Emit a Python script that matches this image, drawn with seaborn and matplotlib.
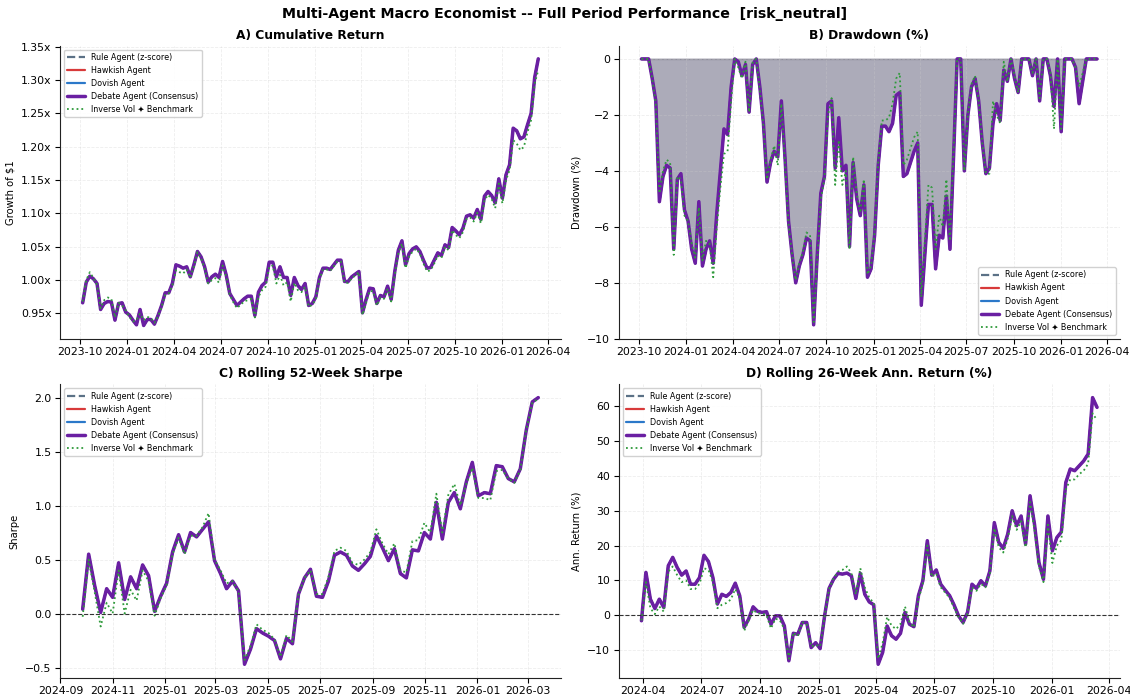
import matplotlib

matplotlib.use("Agg")

import matplotlib.dates as mdates
import matplotlib.pyplot as plt
import pandas as pd
import seaborn as sns
from matplotlib.ticker import FuncFormatter

START_FULL = "2023-10-06"
START_SHARPE = "2024-09-27"
START_RET26 = "2024-03-29"

AGENTS = [
    "Rule Agent (z-score)",
    "Hawkish Agent",
    "Dovish Agent",
    "Debate Agent (Consensus)",
    "Inverse Vol ✦ Benchmark",
]

# A) growth of $1 (agents overlap the debate line almost everywhere)
CUM_DEBATE = [
    0.966, 0.997, 1.006, 1.002, 0.995, 0.956, 0.965, 0.968, 0.967, 0.940,
    0.965, 0.966, 0.952, 0.948, 0.940, 0.933, 0.956, 0.932, 0.941, 0.941,
    0.934, 0.947, 0.962, 0.981, 0.981, 0.995, 1.023, 1.021, 1.018, 1.020,
    1.005, 1.023, 1.043, 1.035, 1.020, 0.997, 1.005, 1.009, 1.004, 1.028,
    1.008, 0.980, 0.971, 0.962, 0.967, 0.972, 0.976, 0.976, 0.947, 0.982,
    0.992, 0.997, 1.027, 1.027, 1.005, 1.020, 1.004, 1.004, 0.977, 1.004,
    0.992, 0.986, 0.995, 0.962, 0.965, 0.975, 1.004, 1.018, 1.018, 1.016,
    1.023, 1.030, 1.030, 0.998, 0.998, 1.005, 1.009, 1.013, 0.951, 0.971,
    0.988, 0.987, 0.965, 0.977, 0.975, 0.991, 0.971, 1.013, 1.045, 1.059,
    1.023, 1.040, 1.047, 1.050, 1.043, 1.030, 1.018, 1.019, 1.030, 1.041,
    1.037, 1.053, 1.049, 1.079, 1.074, 1.068, 1.078, 1.096, 1.098, 1.093,
    1.106, 1.091, 1.126, 1.133, 1.127, 1.116, 1.152, 1.123, 1.158, 1.173,
    1.228, 1.224, 1.212, 1.215, 1.233, 1.250, 1.304, 1.332,
]
CUM_BENCH = [
    0.968, 1.000, 1.012, 1.003, 0.993, 0.958, 0.970, 0.974, 0.972, 0.944,
    0.966, 0.962, 0.955, 0.945, 0.938, 0.940, 0.950, 0.940, 0.945, 0.943,
    0.936, 0.945, 0.960, 0.978, 0.980, 0.992, 1.015, 1.012, 1.010, 1.016,
    1.004, 1.020, 1.042, 1.033, 1.017, 0.995, 1.000, 1.003, 0.996, 1.022,
    1.006, 0.978, 0.967, 0.958, 0.963, 0.968, 0.970, 0.972, 0.944, 0.975,
    0.985, 0.990, 1.020, 1.022, 0.995, 1.008, 0.992, 0.997, 0.968, 0.996,
    0.985, 0.982, 0.990, 0.960, 0.963, 0.972, 1.001, 1.016, 1.016, 1.014,
    1.021, 1.028, 1.028, 0.996, 0.996, 1.003, 1.007, 1.012, 0.948, 0.966,
    0.984, 0.983, 0.962, 0.974, 0.972, 0.987, 0.968, 1.008, 1.040, 1.055,
    1.018, 1.036, 1.043, 1.047, 1.040, 1.025, 1.013, 1.015, 1.025, 1.037,
    1.033, 1.050, 1.045, 1.075, 1.068, 1.063, 1.072, 1.092, 1.094, 1.088,
    1.101, 1.085, 1.120, 1.128, 1.122, 1.108, 1.145, 1.115, 1.150, 1.165,
    1.210, 1.205, 1.195, 1.200, 1.222, 1.240, 1.295, 1.315,
]

# B) drawdown (%)
DD_DEBATE = [
    0.0, 0.0, 0.0, -0.7, -1.5, -5.1, -4.2, -3.8, -3.9, -6.8,
    -4.3, -4.1, -5.4, -5.8, -6.8, -7.3, -5.1, -7.4, -6.8, -6.5,
    -7.3, -5.5, -4.0, -2.5, -2.7, -1.0, 0.0, -0.1, -0.6, -0.2,
    -1.9, -0.2, 0.0, -1.0, -2.3, -4.4, -3.7, -3.3, -3.5, -1.5,
    -3.5, -5.8, -7.0, -8.0, -7.4, -7.0, -6.4, -6.5, -9.5, -7.0,
    -4.8, -4.2, -1.6, -1.5, -3.9, -2.1, -4.0, -3.8, -6.7, -3.7,
    -5.0, -5.6, -4.5, -7.8, -7.5, -6.3, -3.8, -2.4, -2.4, -2.6,
    -2.3, -1.3, -1.2, -4.2, -4.1, -3.7, -3.3, -3.0, -8.8, -7.0,
    -5.2, -5.2, -7.5, -6.3, -6.4, -4.9, -6.8, -3.5, 0.0, 0.0,
    -4.0, -2.0, -1.0, -0.7, -1.5, -3.0, -4.1, -3.9, -2.3, -1.6,
    -2.2, -0.4, -0.8, 0.0, -0.7, -1.2, 0.0, 0.0, 0.0, -0.6,
    0.0, -1.5, 0.0, 0.0, -0.6, -1.7, 0.0, -2.6, 0.0, 0.0,
    0.0, -0.3, -1.6, -0.8, 0.0, 0.0, 0.0, 0.0,
]
DD_BENCH = [
    0.0, 0.0, 0.0, -0.7, -1.6, -4.8, -4.0, -3.6, -3.7, -7.0,
    -4.2, -4.3, -5.6, -5.8, -6.6, -7.1, -5.3, -7.2, -6.5, -6.6,
    -7.8, -6.0, -4.6, -3.4, -3.3, -1.5, 0.0, -0.3, -0.7, -0.1,
    -1.9, -0.1, 0.0, -1.1, -2.4, -4.3, -3.6, -3.1, -3.8, -1.6,
    -3.7, -5.9, -7.0, -7.9, -7.3, -6.9, -6.2, -6.3, -9.4, -7.2,
    -5.0, -4.3, -2.0, -1.4, -4.5, -2.9, -4.5, -4.0, -6.8, -3.5,
    -4.8, -5.5, -4.3, -7.7, -7.4, -6.2, -3.7, -2.2, -2.2, -2.1,
    -1.6, -0.7, -0.5, -3.8, -3.6, -3.2, -2.8, -2.6, -8.5, -6.5,
    -4.5, -4.6, -6.8, -5.6, -6.0, -4.3, -6.5, -3.3, 0.0, 0.0,
    -4.0, -2.0, -0.9, -0.6, -1.5, -3.0, -4.1, -4.1, -1.5, -2.0,
    -2.3, -0.1, -0.8, 0.0, -0.6, -1.2, 0.0, 0.0, 0.0, -0.5,
    0.0, -1.4, 0.0, 0.0, -0.5, -2.5, 0.0, -2.5, 0.0, 0.0,
    0.0, -0.3, -1.0, -0.5, 0.0, 0.0, 0.0, 0.0,
]

# C) rolling 52-week sharpe
SHARPE_DEBATE = [
    0.04, 0.55, 0.26, 0.01, 0.23, 0.15, 0.47, 0.13, 0.34, 0.23,
    0.45, 0.35, 0.02, 0.16, 0.28, 0.57, 0.73, 0.57, 0.75, 0.71,
    0.78, 0.85, 0.49, 0.37, 0.23, 0.30, 0.21, -0.47, -0.33, -0.14,
    -0.18, -0.21, -0.25, -0.42, -0.23, -0.28, 0.18, 0.33, 0.41, 0.16,
    0.15, 0.30, 0.54, 0.57, 0.54, 0.44, 0.40, 0.46, 0.53, 0.72,
    0.61, 0.49, 0.60, 0.37, 0.33, 0.59, 0.58, 0.75, 0.69, 1.03,
    0.69, 1.03, 1.12, 0.97, 1.22, 1.40, 1.09, 1.12, 1.11, 1.37,
    1.36, 1.25, 1.22, 1.34, 1.70, 1.96, 2.00,
]
SHARPE_BENCH = [
    -0.03, 0.50, 0.20, -0.12, 0.10, 0.00, 0.40, 0.00, 0.22, 0.12,
    0.40, 0.30, -0.02, 0.14, 0.26, 0.55, 0.70, 0.55, 0.72, 0.72,
    0.80, 0.93, 0.50, 0.40, 0.28, 0.30, 0.20, -0.43, -0.30, -0.10,
    -0.15, -0.18, -0.24, -0.40, -0.20, -0.26, 0.18, 0.33, 0.40, 0.18,
    0.18, 0.34, 0.58, 0.61, 0.58, 0.47, 0.45, 0.50, 0.57, 0.78,
    0.65, 0.55, 0.65, 0.40, 0.38, 0.67, 0.68, 0.84, 0.75, 1.11,
    0.75, 1.10, 1.20, 1.00, 1.20, 1.35, 1.07, 1.07, 1.05, 1.32,
    1.33, 1.25, 1.21, 1.33, 1.70, 1.95, 1.99,
]

# D) rolling 26-week annualised return (%)
RET26_DEBATE = [
    -1.6, 12.3, 4.6, 1.9, 4.6, 2.2, 14.2, 16.6, 13.7, 11.5,
    12.7, 8.9, 8.9, 10.8, 17.2, 15.4, 10.8, 3.2, 6.0, 5.4,
    6.5, 9.2, 5.6, -3.5, -1.1, 2.4, 1.1, 0.8, 1.0, -2.6,
    -0.2, -0.2, -3.1, -13.1, -5.2, -5.5, -2.1, -2.1, -9.3, -7.9,
    -9.6, -0.2, 7.7, 10.3, 12.0, 11.8, 12.1, 11.3, 4.8, 12.0,
    6.0, 3.8, 3.0, -14.1, -10.7, -3.1, -5.9, -6.9, -5.2, 0.8,
    -2.6, -3.3, 5.6, 9.9, 21.4, 11.5, 13.0, 8.9, 7.2, 5.6,
    2.9, -0.2, -2.1, 0.8, 8.9, 7.7, 9.9, 8.4, 12.7, 26.6,
    20.9, 19.2, 23.3, 30.0, 25.7, 28.5, 20.4, 34.3, 26.1, 15.1,
    10.3, 28.5, 18.5, 22.3, 23.9, 38.1, 42.0, 41.5, 42.9, 44.3,
    46.3, 62.5, 59.7,
]
RET26_BENCH = [
    -1.5, 9.5, 2.0, 0.3, 2.5, 1.0, 12.5, 14.0, 11.5, 9.5,
    10.0, 7.5, 7.5, 9.0, 13.5, 13.0, 9.5, 2.0, 3.0, 3.5,
    4.5, 7.5, 5.0, -4.5, -1.5, 1.5, 0.5, 0.5, 0.0, -3.8,
    -1.0, -1.5, -4.0, -12.5, -5.0, -6.0, -2.0, -2.5, -9.0, -8.5,
    -9.0, -0.5, 7.5, 10.5, 12.5, 13.0, 14.0, 12.0, 6.0, 13.5,
    8.0, 5.0, 3.5, -12.5, -8.0, -0.5, -3.0, -4.0, -2.5, 2.5,
    -2.0, -3.5, 4.5, 9.0, 20.0, 11.0, 12.0, 8.0, 6.5, 5.0,
    2.0, -0.5, -2.5, 0.5, 8.0, 7.0, 9.0, 8.0, 12.0, 25.0,
    19.5, 18.0, 22.0, 28.5, 24.5, 27.0, 19.5, 32.5, 24.5, 14.0,
    9.5, 26.0, 15.0, 20.0, 21.5, 36.0, 39.0, 39.0, 40.5, 41.5,
    43.5, 58.0, 56.0,
]

STYLES = {
    "Rule Agent (z-score)": dict(color="#5b7186", linestyle="--", linewidth=1.6),
    "Hawkish Agent": dict(color="#d83a3a", linestyle="-", linewidth=1.6),
    "Dovish Agent": dict(color="#2b78c9", linestyle="-", linewidth=1.6),
    "Debate Agent (Consensus)": dict(color="#6a1fa2", linestyle="-", linewidth=2.5),
    "Inverse Vol ✦ Benchmark": dict(color="#2e9a3a", linestyle=":", linewidth=1.3),
}


def panel_series(debate: list[float], bench: list[float]) -> dict[str, list[float]]:
    # the three single agents are indistinguishable from the debate line at this scale
    return {
        AGENTS[0]: debate,
        AGENTS[1]: debate,
        AGENTS[2]: debate,
        AGENTS[3]: debate,
        AGENTS[4]: bench,
    }


def draw_lines(ax, start: str, series: dict[str, list[float]]) -> None:
    for name in AGENTS:
        values = series[name]
        dates = pd.date_range(start, periods=len(values), freq="7D")
        sns.lineplot(x=dates, y=values, ax=ax, label=name, **STYLES[name])


def style_axis(ax, title: str, ylabel: str, months: list[int], legend_loc: str) -> None:
    ax.set_title(title, fontsize=8.8, fontweight="bold", pad=5)
    ax.set_ylabel(ylabel, fontsize=7.2)
    ax.set_xlabel("")
    ax.xaxis.set_major_locator(mdates.MonthLocator(bymonth=months))
    ax.xaxis.set_major_formatter(mdates.DateFormatter("%Y-%m"))
    ax.tick_params(labelsize=7.8, pad=2.5)
    ax.grid(True, linestyle="--", alpha=0.35, linewidth=0.6)
    ax.legend(loc=legend_loc, fontsize=5.8, framealpha=0.9, handlelength=2.2)
    sns.despine(ax=ax)


def main() -> None:
    sns.set_style("ticks", rc={
        "text.color": "black",
        "axes.labelcolor": "black",
        "xtick.color": "black",
        "ytick.color": "black",
        "axes.edgecolor": "#222222",
    })
    fig, axes = plt.subplots(2, 2, figsize=(11.3, 7.0), dpi=100)
    fig.subplots_adjust(left=0.053, right=0.991, top=0.935, bottom=0.032,
                        hspace=0.155, wspace=0.115)
    quarterly = [1, 4, 7, 10]

    ax = axes[0, 0]
    draw_lines(ax, START_FULL, panel_series(CUM_DEBATE, CUM_BENCH))
    ax.yaxis.set_major_formatter(FuncFormatter(lambda v, _: f"{v:.2f}x"))
    style_axis(ax, "A) Cumulative Return", "Growth of $1", quarterly, "upper left")

    ax = axes[0, 1]
    dd_dates = pd.date_range(START_FULL, periods=len(DD_DEBATE), freq="7D")
    ax.fill_between(dd_dates, DD_DEBATE, 0, color="#acabb9", zorder=0)
    ax.plot(dd_dates, [0.0] * len(dd_dates), color="#8f8e9c", linewidth=1.0, zorder=0)
    draw_lines(ax, START_FULL, panel_series(DD_DEBATE, DD_BENCH))
    ax.set_ylim(-10, 0.48)
    style_axis(ax, "B) Drawdown (%)", "Drawdown (%)", quarterly, "lower right")

    ax = axes[1, 0]
    draw_lines(ax, START_SHARPE, panel_series(SHARPE_DEBATE, SHARPE_BENCH))
    ax.axhline(0, color="#333333", linestyle="--", linewidth=0.8)
    style_axis(ax, "C) Rolling 52-Week Sharpe", "Sharpe", [1, 3, 5, 7, 9, 11], "upper left")

    ax = axes[1, 1]
    draw_lines(ax, START_RET26, panel_series(RET26_DEBATE, RET26_BENCH))
    ax.axhline(0, color="#333333", linestyle="--", linewidth=0.8)
    style_axis(ax, "D) Rolling 26-Week Ann. Return (%)", "Ann. Return (%)", quarterly, "upper left")

    fig.suptitle(
        "Multi-Agent Macro Economist -- Full Period Performance  [risk_neutral]",
        fontsize=10.2, fontweight="bold", y=0.99,
    )
    fig.savefig("out.png", dpi=100)
    plt.close(fig)


if __name__ == "__main__":
    main()
